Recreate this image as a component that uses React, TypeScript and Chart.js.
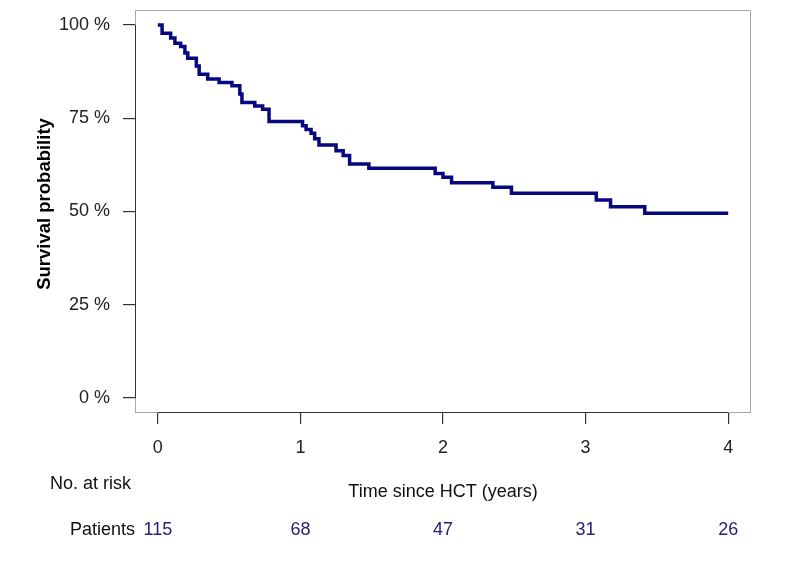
import React, { useEffect, useRef } from "react";
import { Chart, registerables } from "chart.js";

Chart.register(...registerables);

// Kaplan-Meier step points: time (years) and survival (%) after that time
const times = [0, 0.03, 0.09, 0.12, 0.16, 0.19, 0.21, 0.27, 0.29, 0.35, 0.43, 0.52, 0.575, 0.59, 0.68, 0.735, 0.78, 1.015, 1.04, 1.075, 1.1, 1.13, 1.25, 1.3, 1.345, 1.48, 1.945, 2.0, 2.06, 2.35, 2.48, 3.075, 3.175, 3.415, 4.0];
const survival = [100, 97.8, 96.5, 95.1, 94.2, 92.5, 91.1, 89.0, 86.8, 85.5, 84.6, 83.7, 81.5, 79.2, 78.3, 77.4, 74.1, 73.0, 72.0, 71.0, 69.5, 67.8, 66.3, 65.0, 62.7, 61.6, 60.2, 59.2, 57.7, 56.5, 54.9, 53.1, 51.3, 49.5, 49.5];

const xTicks = [0, 1, 2, 3, 4];
const yTicks = [0, 25, 50, 75, 100];
const riskTimes = [0, 1, 2, 3, 4];
const riskCounts = [115, 68, 47, 31, 26];
const riskGroup = "Patients";
const yTitle = "Survival probability";

const FONT = "'Liberation Sans', Arial, Helvetica, sans-serif";

const rPlot = {
  id: "rStyle",
  beforeDatasetsDraw(chart: any) {
    const { ctx, chartArea } = chart;
    ctx.save();
    ctx.strokeStyle = "#a8a8a8";
    ctx.lineWidth = 1;
    ctx.strokeRect(chartArea.left + 0.5, chartArea.top + 0.5, chartArea.right - chartArea.left - 1, chartArea.bottom - chartArea.top - 1);
    ctx.restore();
  },
  afterDraw(chart: any) {
    const { ctx, chartArea, scales } = chart;
    const xs = scales.x;
    const ys = scales.y;
    ctx.save();
    ctx.strokeStyle = "#333333";
    ctx.lineWidth = 1;
    // y axis line (tick range only)
    ctx.beginPath();
    const ax = Math.round(chartArea.left) + 0.5;
    ctx.moveTo(ax, ys.getPixelForValue(yTicks[0]));
    ctx.lineTo(ax, ys.getPixelForValue(yTicks[yTicks.length - 1]));
    ctx.stroke();
    // x axis line
    ctx.beginPath();
    const ay = Math.round(chartArea.bottom) - 0.5;
    ctx.moveTo(xs.getPixelForValue(xTicks[0]), ay);
    ctx.lineTo(xs.getPixelForValue(xTicks[xTicks.length - 1]), ay);
    ctx.stroke();

    // y axis title
    ctx.save();
    ctx.translate(45, 204);
    ctx.rotate(-Math.PI / 2);
    ctx.font = `bold 18.5px ${FONT}`;
    ctx.fillStyle = "#000000";
    ctx.textAlign = "center";
    ctx.textBaseline = "middle";
    ctx.fillText(yTitle, 0, 0);
    ctx.restore();

    // risk table
    ctx.font = `18px ${FONT}`;
    ctx.textBaseline = "middle";
    ctx.fillStyle = "#111111";
    ctx.textAlign = "left";
    ctx.fillText("No. at risk", 50, 484);
    ctx.textAlign = "right";
    ctx.fillText(riskGroup, 135, 530);
    ctx.fillStyle = "#23237a";
    ctx.textAlign = "center";
    riskTimes.forEach((t, i) => {
      ctx.fillText(String(riskCounts[i]), xs.getPixelForValue(t), 530);
    });
    ctx.restore();
  },
};

export default function App() {
  const ref = useRef<HTMLCanvasElement>(null);
  useEffect(() => {
    if (!ref.current) return;
    const chart = new Chart(ref.current, {
      type: "line",
      data: {
        datasets: [
          {
            data: times.map((t, i) => ({ x: t, y: survival[i] })),
            borderColor: "#07077f",
            borderWidth: 3.5,
            pointRadius: 0,
            stepped: true,
            fill: false,
            tension: 0,
          },
        ],
      },
      options: {
        responsive: false,
        animation: false,
        layout: { padding: { top: 10, right: 49, left: 0, bottom: 0 } },
        plugins: { legend: { display: false }, tooltip: { enabled: false } },
        scales: {
          x: {
            type: "linear",
            min: -0.16,
            max: 4.16,
            afterBuildTicks: (s: any) => {
              s.ticks = xTicks.map((v) => ({ value: v }));
            },
            afterFit: (s: any) => {
              s.height = 155;
              s.paddingLeft = 0;
              s.paddingRight = 0;
            },
            grid: { display: true, drawOnChartArea: false, drawTicks: true, tickLength: 11, color: "#333333", lineWidth: 1.2 },
            border: { display: false },
            ticks: {
              autoSkip: false,
              maxRotation: 0,
              padding: 13,
              color: "#222222",
              font: { family: FONT, size: 18 },
              callback: (v: any) => String(v),
            },
            title: {
              display: true,
              text: "Time since HCT (years)",
              color: "#111111",
              font: { family: FONT, size: 18 },
              padding: { top: 0, bottom: 65 },
            },
          },
          y: {
            type: "linear",
            min: -4,
            max: 104,
            afterBuildTicks: (s: any) => {
              s.ticks = yTicks.map((v) => ({ value: v }));
            },
            afterFit: (s: any) => {
              s.width = 135;
              s.paddingTop = 0;
              s.paddingBottom = 0;
            },
            grid: { display: true, drawOnChartArea: false, drawTicks: true, tickLength: 12, color: "#333333", lineWidth: 1.2 },
            border: { display: false },
            ticks: {
              autoSkip: false,
              padding: 13,
              color: "#222222",
              font: { family: FONT, size: 18 },
              callback: (v: any) => `${v} %`,
            },
            title: { display: false },
          },
        },
      },
      plugins: [rPlot],
    });
    return () => chart.destroy();
  }, []);
  return (
    <div style={{ position: "fixed", left: 0, top: 0, width: 800, height: 568, background: "#ffffff" }}>
      <canvas ref={ref} width={800} height={568} style={{ width: 800, height: 568 }} />
    </div>
  );
}
